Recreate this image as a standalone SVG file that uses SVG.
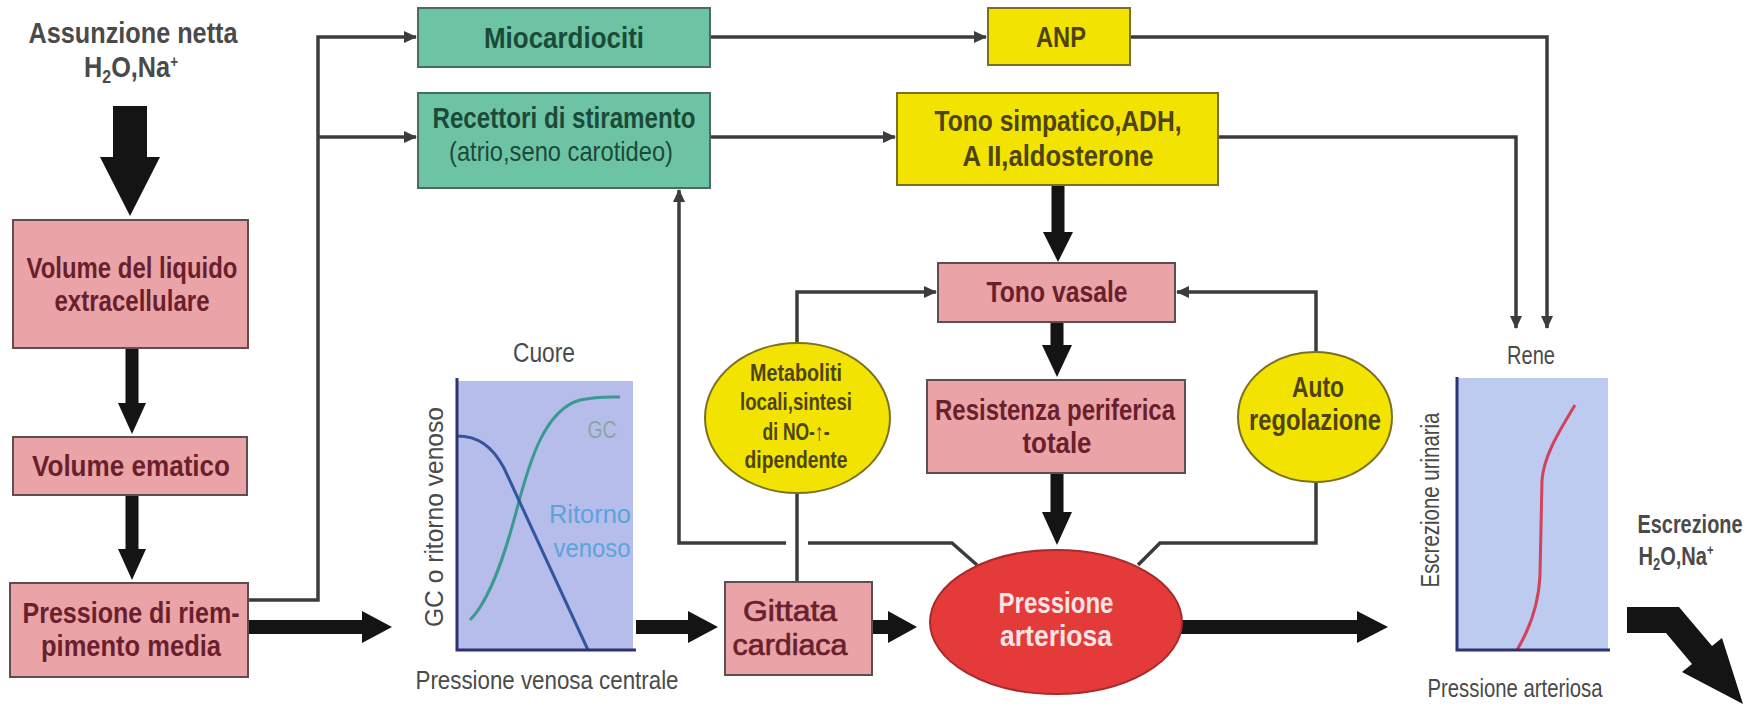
<svg xmlns="http://www.w3.org/2000/svg" width="1760" height="704" viewBox="0 0 1760 704">
  <defs>
    <style>
      .b { font-family: "Liberation Sans", Arial, sans-serif; font-weight: bold; }
      .r { font-family: "Liberation Sans", Arial, sans-serif; font-weight: normal; }
      .pink rect { fill: #eaa4a7; stroke: #5e4e50; stroke-width: 2; }
      .pink text { fill: #6a1f2e; font-size: 29px; text-anchor: middle; }
      .green rect { fill: #6dc4a5; stroke: #4d6a60; stroke-width: 2; }
      .green text { fill: #1c4a38; text-anchor: middle; }
      .yellow rect, .yellow ellipse { fill: #f3e300; stroke: #7b7022; stroke-width: 2; }
      .yellow text { fill: #4d4410; text-anchor: middle; }
      .label { fill: #4a4a4a; text-anchor: middle; }
      .thin { fill: none; stroke: #3c3c3c; stroke-width: 3.5; }
      .thick { fill: #141414; }
      .axis { fill: none; stroke: #2d3370; stroke-width: 3; }
    </style>
    <marker id="tip" markerUnits="userSpaceOnUse" markerWidth="13" markerHeight="12" refX="12" refY="6" orient="auto">
      <path d="M0,0 L13,6 L0,12 z" fill="#3c3c3c"/>
    </marker>
  </defs>

  <rect width="1760" height="704" fill="#ffffff"/>

  <!-- intake label -->
  <g id="intake">
    <text class="b label" x="133" y="43" font-size="30" textLength="209" lengthAdjust="spacingAndGlyphs">Assunzione netta</text>
    <text class="b label" x="131" y="77" font-size="30" textLength="94" lengthAdjust="spacingAndGlyphs">H<tspan font-size="19" dy="6">2</tspan><tspan dy="-6">O,Na</tspan><tspan font-size="16" dy="-10">+</tspan></text>
  </g>

  <!-- connectors -->
  <g id="connectors">
    <!-- heavy flow arrows -->
    <polygon class="thick" points="113,106 147,106 147,157 160,157 130,216 100,157 113,157"/>
    <polygon class="thick" points="125.5,348 138.5,348 138.5,403 146,403 132,434 118,403 125.5,403"/>
    <polygon class="thick" points="125.5,495 138.5,495 138.5,549 146,549 132,580 118,549 125.5,549"/>
    <polygon class="thick" points="248,620 362,620 362,611 392,627 362,643 362,634 248,634"/>
    <polygon class="thick" points="636,620 688,620 688,611 718,627 688,643 688,634 636,634"/>
    <polygon class="thick" points="872,620 888,620 888,611 917,627 888,643 888,634 872,634"/>
    <polygon class="thick" points="1180,620 1357,620 1357,611 1388,627 1357,643 1357,634 1180,634"/>
    <polygon class="thick" points="1051.5,185 1064.5,185 1064.5,232 1073,232 1058,262 1043,232 1051.5,232"/>
    <polygon class="thick" points="1050.5,322 1063.5,322 1063.5,345 1072,345 1057,377 1042,345 1050.5,345"/>
    <polygon class="thick" points="1050.5,473 1063.5,473 1063.5,512 1072,512 1057,545 1042,512 1050.5,512"/>
    <polygon class="thick" points="1627,607 1679,607 1712,646 1722,638 1743,704 1682,672 1692,664 1666,633 1627,633"/>

    <!-- thin signalling lines -->
    <path class="thin" d="M248,600 H318 V37 H416" marker-end="url(#tip)"/>
    <path class="thin" d="M318,137 H416" marker-end="url(#tip)"/>
    <path class="thin" d="M710,37 H986" marker-end="url(#tip)"/>
    <path class="thin" d="M710,137 H895" marker-end="url(#tip)"/>
    <path class="thin" d="M1130,37 H1547 V328" marker-end="url(#tip)"/>
    <path class="thin" d="M1218,137 H1516 V328" marker-end="url(#tip)"/>
    <path class="thin" d="M797,343 V292 H936" marker-end="url(#tip)"/>
    <path class="thin" d="M797,493 V582"/>
    <path class="thin" d="M1316,352 V292 H1177" marker-end="url(#tip)"/>
    <path class="thin" d="M1316,482 V543 H1160 L1138,565"/>
    <path class="thin" d="M977,565 L952,543 H808"/>
    <path class="thin" d="M786,543 H679 V190" marker-end="url(#tip)"/>
  </g>

  <!-- left column -->
  <g id="volume-lec" class="pink">
    <rect x="13" y="220" width="235" height="128"/>
    <text class="b" x="132" y="278" textLength="211" lengthAdjust="spacingAndGlyphs">Volume del liquido</text>
    <text class="b" x="132" y="311" textLength="155" lengthAdjust="spacingAndGlyphs">extracellulare</text>
  </g>
  <g id="volume-ematico" class="pink">
    <rect x="13" y="437" width="234" height="58"/>
    <text class="b" x="131" y="476" textLength="198" lengthAdjust="spacingAndGlyphs">Volume ematico</text>
  </g>
  <g id="pressione-riempimento" class="pink">
    <rect x="10" y="583" width="238" height="94"/>
    <text class="b" x="131" y="623" textLength="217" lengthAdjust="spacingAndGlyphs">Pressione di riem-</text>
    <text class="b" x="131" y="656" textLength="180" lengthAdjust="spacingAndGlyphs">pimento media</text>
  </g>

  <!-- receptors -->
  <g id="miocardiociti" class="green">
    <rect x="418" y="8" width="292" height="59"/>
    <text class="b" x="564" y="48" font-size="30" textLength="160" lengthAdjust="spacingAndGlyphs">Miocardiociti</text>
  </g>
  <g id="recettori" class="green">
    <rect x="418" y="93" width="292" height="95"/>
    <text class="b" x="564" y="128" font-size="30" textLength="263" lengthAdjust="spacingAndGlyphs">Recettori di stiramento</text>
    <text class="r" x="561" y="161" font-size="28" textLength="224" lengthAdjust="spacingAndGlyphs">(atrio,seno carotideo)</text>
  </g>

  <!-- hormonal effectors -->
  <g id="anp" class="yellow">
    <rect x="988" y="8" width="142" height="57"/>
    <text class="b" x="1061" y="47" font-size="29" textLength="50" lengthAdjust="spacingAndGlyphs">ANP</text>
  </g>
  <g id="tono-simpatico" class="yellow">
    <rect x="897" y="93" width="321" height="92"/>
    <text class="b" x="1058" y="131" font-size="29" textLength="247" lengthAdjust="spacingAndGlyphs">Tono simpatico,ADH,</text>
    <text class="b" x="1058" y="166" font-size="29" textLength="191" lengthAdjust="spacingAndGlyphs">A II,aldosterone</text>
  </g>

  <!-- vascular branch -->
  <g id="tono-vasale" class="pink">
    <rect x="938" y="263" width="237" height="59"/>
    <text class="b" x="1057" y="302" textLength="141" lengthAdjust="spacingAndGlyphs">Tono vasale</text>
  </g>
  <g id="resistenza" class="pink">
    <rect x="927" y="380" width="258" height="93"/>
    <text class="b" x="1055" y="420" textLength="240" lengthAdjust="spacingAndGlyphs">Resistenza periferica</text>
    <text class="b" x="1057" y="453" textLength="69" lengthAdjust="spacingAndGlyphs">totale</text>
  </g>
  <g id="metaboliti" class="yellow">
    <ellipse cx="797.5" cy="418" rx="92.5" ry="75"/>
    <text class="b" x="796" y="381" font-size="24" textLength="92" lengthAdjust="spacingAndGlyphs">Metaboliti</text>
    <text class="b" x="796" y="410" font-size="24" textLength="112" lengthAdjust="spacingAndGlyphs">locali,sintesi</text>
    <text class="b" x="796" y="440" font-size="24" textLength="67" lengthAdjust="spacingAndGlyphs">di NO-↑-</text>
    <text class="b" x="796" y="468" font-size="24" textLength="103" lengthAdjust="spacingAndGlyphs">dipendente</text>
  </g>
  <g id="autoregolazione" class="yellow">
    <ellipse cx="1315" cy="417" rx="77" ry="65"/>
    <text class="b" x="1318" y="397" font-size="29" textLength="52" lengthAdjust="spacingAndGlyphs">Auto</text>
    <text class="b" x="1315" y="430" font-size="29" textLength="132" lengthAdjust="spacingAndGlyphs">regolazione</text>
  </g>

  <!-- cardiac output -->
  <g id="gittata" class="pink">
    <rect x="725" y="582" width="147" height="93"/>
    <text class="r" x="790" y="621" stroke="#6a1f2e" stroke-width="0.7" textLength="94" lengthAdjust="spacingAndGlyphs">Gittata</text>
    <text class="r" x="790" y="655" stroke="#6a1f2e" stroke-width="0.7" textLength="115" lengthAdjust="spacingAndGlyphs">cardiaca</text>
  </g>
  <g id="pressione-arteriosa">
    <ellipse cx="1056" cy="622" rx="126" ry="72" fill="#e43b3a" stroke="#a82b2b" stroke-width="2"/>
    <text class="b" x="1056" y="613" font-size="29" fill="#f7e4e4" text-anchor="middle" textLength="115" lengthAdjust="spacingAndGlyphs">Pressione</text>
    <text class="b" x="1056" y="646" font-size="29" fill="#f7e4e4" text-anchor="middle" textLength="112" lengthAdjust="spacingAndGlyphs">arteriosa</text>
  </g>

  <!-- heart function curve -->
  <g id="cuore">
    <text class="r label" x="544" y="362" font-size="27" textLength="62" lengthAdjust="spacingAndGlyphs">Cuore</text>
    <rect x="457" y="381" width="176" height="269" fill="#b6bdea"/>
    <path d="M470,620 C490,600 505,555 518,505 C530,460 545,410 580,400 C600,396 612,397 620,397" fill="none" stroke="#3b9a90" stroke-width="3"/>
    <path d="M457,436 C478,436 492,446 504,468 L588,650" fill="none" stroke="#33559f" stroke-width="3"/>
    <path class="axis" d="M457,378 V650 H636"/>
    <text class="r" x="602" y="438" font-size="24" fill="#8aa4a6" text-anchor="middle" textLength="29" lengthAdjust="spacingAndGlyphs">GC</text>
    <text class="r" x="590" y="523" font-size="26" fill="#5aa4dc" text-anchor="middle" textLength="82" lengthAdjust="spacingAndGlyphs">Ritorno</text>
    <text class="r" x="592" y="557" font-size="26" fill="#5aa4dc" text-anchor="middle" textLength="77" lengthAdjust="spacingAndGlyphs">venoso</text>
    <text class="r label" transform="translate(443,517) rotate(-90)" font-size="25" textLength="220" lengthAdjust="spacingAndGlyphs">GC o ritorno venoso</text>
    <text class="r label" x="547" y="689" font-size="26" textLength="263" lengthAdjust="spacingAndGlyphs">Pressione venosa centrale</text>
  </g>

  <!-- renal function curve -->
  <g id="rene">
    <text class="r label" x="1531" y="364" font-size="25" textLength="48" lengthAdjust="spacingAndGlyphs">Rene</text>
    <rect x="1457" y="378" width="151" height="272" fill="#bccbef"/>
    <path d="M1517,650 C1532,625 1539,600 1540,575 L1542,480 C1544,455 1560,430 1575,405" fill="none" stroke="#d2425a" stroke-width="3"/>
    <path class="axis" d="M1457,377 V650 H1610"/>
    <text class="r label" transform="translate(1439,500) rotate(-90)" font-size="25" textLength="175" lengthAdjust="spacingAndGlyphs">Escrezione urinaria</text>
    <text class="r label" x="1515" y="697" font-size="25" textLength="175" lengthAdjust="spacingAndGlyphs">Pressione arteriosa</text>
  </g>

  <!-- excretion label -->
  <g id="excretion">
    <text class="b label" x="1690" y="533" font-size="25" fill="#555" textLength="105" lengthAdjust="spacingAndGlyphs">Escrezione</text>
    <text class="b label" x="1676" y="565" font-size="25" fill="#555" textLength="75" lengthAdjust="spacingAndGlyphs">H<tspan font-size="16" dy="5">2</tspan><tspan dy="-5">O,Na</tspan><tspan font-size="14" dy="-10">+</tspan></text>
  </g>
</svg>
